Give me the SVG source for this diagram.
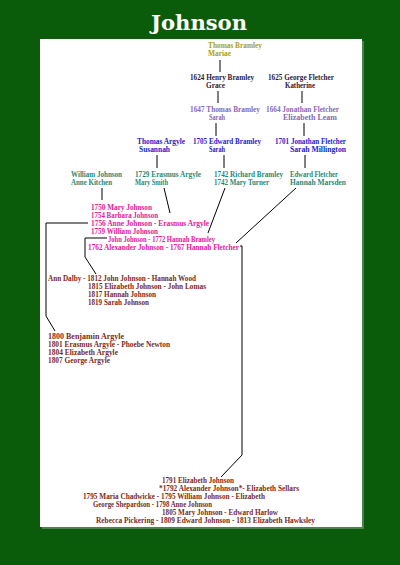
<svg xmlns="http://www.w3.org/2000/svg" width="400" height="565" viewBox="0 0 400 565">
<style>
text{font-family:"Liberation Serif","DejaVu Serif",serif;font-size:7.2px;font-weight:bold;}
.title{font-family:"DejaVu Serif",serif;font-size:21px;fill:#ffffff;font-weight:bold;}
.g1{fill:#a8a020}.g2{fill:#301838}.g3{fill:#8868b8}.g4{fill:#2222cc}.g5{fill:#1f8a78}.g6{fill:#e0209a}.g7{fill:#7a2a1a}
.c{stroke:#000;stroke-width:1;fill:none}
</style>
<rect width="400" height="565" fill="#0a5c0a"/>
<rect x="42" y="41" width="322" height="488" fill="#7a9a7a" opacity="0.6"/>
<rect x="40" y="39" width="322" height="488" fill="#ffffff"/>
<text class="title" x="199" y="30" text-anchor="middle" textLength="96" lengthAdjust="spacingAndGlyphs">Johnson</text>
<g id="connectors">
<path class="c" d="M220,60V72"/>
<path class="c" d="M218,91V103"/>
<path class="c" d="M302,91V103"/>
<path class="c" d="M216,123V136"/>
<path class="c" d="M304,123V136"/>
<path class="c" d="M157,155V168"/>
<path class="c" d="M224,155V168"/>
<path class="c" d="M305,155V168"/>
<path class="c" d="M102,188V200"/>
<path class="c" d="M164,188L170,213"/>
<path class="c" d="M225,188L208,233"/>
<path class="c" d="M296,188L236,243"/>
<path class="c" d="M88,223H46V316L55,331"/>
<path class="c" d="M107,238H85V257L96,274"/>
<path class="c" d="M240,246H242V455L221,477"/>
</g>
<g id="thomas-bramley" class="g1"><text x="208" y="48" textLength="54" lengthAdjust="spacingAndGlyphs">Thomas Bramley</text><text x="208" y="56" textLength="23" lengthAdjust="spacingAndGlyphs">Mariae</text></g>
<g id="henry-bramley" class="g2"><text x="190" y="80" textLength="64" lengthAdjust="spacingAndGlyphs">1624 Henry Bramley</text><text x="206" y="88" textLength="19" lengthAdjust="spacingAndGlyphs">Grace</text></g>
<g id="george-fletcher" class="g2"><text x="268" y="80" textLength="66" lengthAdjust="spacingAndGlyphs">1625 George Fletcher</text><text x="285" y="88" textLength="30" lengthAdjust="spacingAndGlyphs">Katherine</text></g>
<g id="thomas-bramley-1647" class="g3"><text x="190" y="112" textLength="70" lengthAdjust="spacingAndGlyphs">1647 Thomas Bramley</text><text x="209" y="120" textLength="16" lengthAdjust="spacingAndGlyphs">Sarah</text></g>
<g id="jonathan-fletcher-1664" class="g3"><text x="266" y="112" textLength="73" lengthAdjust="spacingAndGlyphs">1664 Jonathan Fletcher</text><text x="283" y="120" textLength="54" lengthAdjust="spacingAndGlyphs">Elizabeth Leam</text></g>
<g id="thomas-argyle" class="g4"><text x="137" y="144" textLength="48" lengthAdjust="spacingAndGlyphs">Thomas Argyle</text><text x="139" y="152" textLength="31" lengthAdjust="spacingAndGlyphs">Susannah</text></g>
<g id="edward-bramley" class="g4"><text x="193" y="144" textLength="68" lengthAdjust="spacingAndGlyphs">1705 Edward Bramley</text><text x="209" y="152" textLength="16" lengthAdjust="spacingAndGlyphs">Sarah</text></g>
<g id="jonathan-fletcher-1701" class="g4"><text x="275" y="144" textLength="71" lengthAdjust="spacingAndGlyphs">1701 Jonathan Fletcher</text><text x="290" y="152" textLength="56" lengthAdjust="spacingAndGlyphs">Sarah Millington</text></g>
<g id="william-johnson" class="g5"><text x="71" y="177" textLength="51" lengthAdjust="spacingAndGlyphs">William Johnson</text><text x="71" y="185" textLength="41" lengthAdjust="spacingAndGlyphs">Anne Kitchen</text></g>
<g id="erasmus-argyle" class="g5"><text x="135" y="177" textLength="66" lengthAdjust="spacingAndGlyphs">1729 Erasmus Argyle</text><text x="135" y="185" textLength="33" lengthAdjust="spacingAndGlyphs">Mary Smith</text></g>
<g id="richard-bramley" class="g5"><text x="214" y="177" textLength="69" lengthAdjust="spacingAndGlyphs">1742 Richard Bramley</text><text x="214" y="185" textLength="55" lengthAdjust="spacingAndGlyphs">1742 Mary Turner</text></g>
<g id="edward-fletcher" class="g5"><text x="290" y="177" textLength="48" lengthAdjust="spacingAndGlyphs">Edward Fletcher</text><text x="290" y="185" textLength="56" lengthAdjust="spacingAndGlyphs">Hannah Marsden</text></g>
<g id="johnson-children" class="g6">
<text x="91" y="210" textLength="61" lengthAdjust="spacingAndGlyphs">1750 Mary Johnson</text>
<text x="91" y="218" textLength="67" lengthAdjust="spacingAndGlyphs">1754 Barbara Johnson</text>
<text x="91" y="226" textLength="118" lengthAdjust="spacingAndGlyphs">1756 Anne Johnson - Erasmus Argyle</text>
<text x="91" y="234" textLength="67" lengthAdjust="spacingAndGlyphs">1759 William Johnson</text>
<text x="108" y="242" textLength="107" lengthAdjust="spacingAndGlyphs">John Johnson - 1772 Hannah Bramley</text>
<text x="88" y="250" textLength="151" lengthAdjust="spacingAndGlyphs">1762 Alexander Johnson - 1767 Hannah Fletcher</text>
</g>
<g id="john-johnson-family" class="g7">
<text x="48" y="281" textLength="148" lengthAdjust="spacingAndGlyphs">Ann Dalby - 1812 John Johnson - Hannah Wood</text>
<text x="88" y="289" textLength="118" lengthAdjust="spacingAndGlyphs">1815 Elizabeth Johnson - John Lomas</text>
<text x="88" y="297" textLength="68" lengthAdjust="spacingAndGlyphs">1817 Hannah Johnson</text>
<text x="88" y="305" textLength="61" lengthAdjust="spacingAndGlyphs">1819 Sarah Johnson</text>
</g>
<g id="argyle-family" class="g7">
<text x="48" y="339" textLength="76" lengthAdjust="spacingAndGlyphs">1800 Benjamin Argyle</text>
<text x="48" y="347" textLength="122" lengthAdjust="spacingAndGlyphs">1801 Erasmus Argyle - Phoebe Newton</text>
<text x="48" y="355" textLength="70" lengthAdjust="spacingAndGlyphs">1804 Elizabeth Argyle</text>
<text x="48" y="363" textLength="62" lengthAdjust="spacingAndGlyphs">1807 George Argyle</text>
</g>
<g id="alexander-johnson-family" class="g7">
<text x="162" y="483" textLength="72" lengthAdjust="spacingAndGlyphs">1791 Elizabeth Johnson</text>
<text x="159" y="491" textLength="140" lengthAdjust="spacingAndGlyphs">*1792 Alexander Johnson*- Elizabeth Sellars</text>
<text x="83" y="499" textLength="182" lengthAdjust="spacingAndGlyphs">1795 Maria Chadwicke - 1795 William Johnson - Elizabeth</text>
<text x="93" y="507" textLength="119" lengthAdjust="spacingAndGlyphs">George Shepardson - 1798 Anne Johnson</text>
<text x="162" y="515" textLength="116" lengthAdjust="spacingAndGlyphs">1805 Mary Johnson - Edward Harlow</text>
<text x="96" y="523" textLength="219" lengthAdjust="spacingAndGlyphs">Rebecca Pickering - 1809 Edward Johnson - 1813 Elizabeth Hawksley</text>
</g>
</svg>
